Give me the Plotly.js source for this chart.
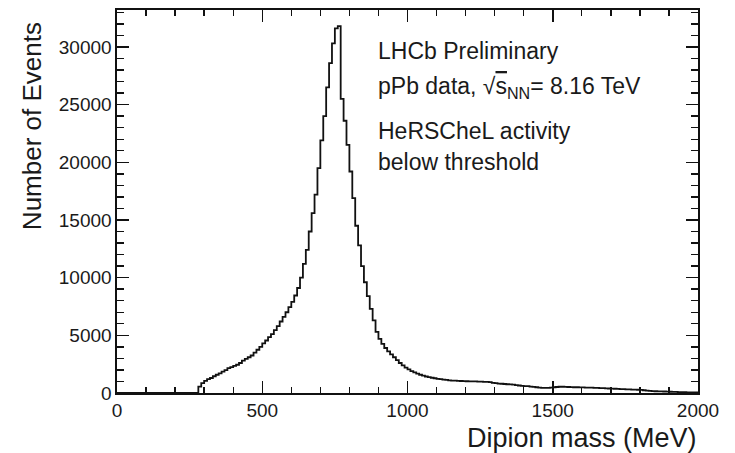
<!DOCTYPE html>
<html>
<head>
<meta charset="utf-8">
<script src="https://cdn.plot.ly/plotly-3.0.1.min.js"></script>
<style>
  html, body { margin: 0; padding: 0; background: #ffffff; }
  #chart { width: 735px; height: 453px; }
</style>
</head>
<body>
<div id="chart"></div>
<script>
// Histogram: dipion mass, 10 MeV bins from 0 to 2000 MeV
const binWidth = 10;       // MeV
const binStart = 0;        // MeV
const counts = [
  // 0 - 90
  0, 0, 0, 0, 0, 0, 0, 0, 0, 0,
  // 100 - 190
  0, 0, 0, 0, 0, 0, 0, 0, 0, 0,
  // 200 - 290
  0, 0, 0, 0, 0, 0, 0, 0, 550, 850,
  // 300 - 390
  1050, 1200, 1300, 1450, 1580, 1700, 1850, 1980, 2150, 2250,
  // 400 - 490
  2350, 2450, 2600, 2800, 2950, 3100, 3250, 3500, 3750, 4000,
  // 500 - 590
  4300, 4550, 4850, 5100, 5450, 5800, 6200, 6600, 7000, 7450,
  // 600 - 690
  7900, 8450, 9100, 10000, 11200, 12400, 14000, 15600, 17200, 19500,
  // 700 - 790
  21900, 24000, 26500, 28600, 30300, 31600, 31800, 25500, 23600, 21500,
  // 800 - 890
  19200, 16900, 14500, 12800, 11000, 9600, 8400, 7300, 6300, 5300,
  // 900 - 990
  4700, 4250, 3900, 3600, 3350, 3100, 2850, 2600, 2400, 2200,
  // 1000 - 1090
  2050, 1900, 1780, 1680, 1580, 1500, 1430, 1370, 1320, 1280,
  // 1100 - 1190
  1230, 1200, 1160, 1130, 1100, 1080, 1070, 1050, 1040, 1030,
  // 1200 - 1290
  1020, 1010, 1000, 1000, 990, 980, 970, 960, 940, 880,
  // 1300 - 1390
  850, 820, 800, 780, 760, 740, 720, 690, 650, 620,
  // 1400 - 1490
  600, 590, 560, 530, 500, 470, 450, 440, 450, 470,
  // 1500 - 1590
  500, 520, 540, 540, 530, 520, 510, 500, 500, 490,
  // 1600 - 1690
  480, 470, 460, 460, 450, 440, 430, 420, 400, 390,
  // 1700 - 1790
  380, 370, 350, 340, 330, 320, 310, 300, 290, 280,
  // 1800 - 1890
  270, 240, 210, 180, 160, 150, 140, 140, 130, 120,
  // 1900 - 1990
  110, 100, 90, 80, 80, 70, 60, 60, 50, 50
];

const xTickVals = [0, 500, 1000, 1500, 2000];
const yTickVals = [0, 5000, 10000, 15000, 20000, 25000, 30000];

const xTitle = 'Dipion mass (MeV)';
const yTitle = 'Number of Events';
const labelLines = [
  'LHCb Preliminary',
  'pPb data, √<span style="text-decoration:overline">s</span><sub>NN</sub>= 8.16 TeV',
  'HeRSCheL activity',
  'below threshold'
];

// bin edges for a step outline
const edges = [];
const stepY = [];
for (let i = 0; i < counts.length; i++) {
  edges.push(binStart + i * binWidth);
  stepY.push(counts[i]);
}
edges.push(binStart + counts.length * binWidth);
stepY.push(counts[counts.length - 1]);

const FONT = 'Liberation Sans, Arial, Helvetica, sans-serif';
const INK = '#1a1a1a';
const LINE = '#111111';

const trace = {
  type: 'scatter',
  mode: 'lines',
  x: edges,
  y: stepY,
  line: { shape: 'hv', color: LINE, width: 1.8 },
  hoverinfo: 'x+y',
  showlegend: false
};

const axisCommon = {
  showgrid: false,
  zeroline: false,
  showline: true,
  linecolor: LINE,
  linewidth: 1.6,
  mirror: 'allticks',
  ticks: 'inside',
  tickcolor: LINE,
  tickwidth: 1.5,
  ticklen: 12,
  tickfont: { family: FONT, size: 19, color: INK },
  fixedrange: true
};

const xMinor = { dtick: 100, ticks: 'inside', ticklen: 6, tickwidth: 1.4, tickcolor: LINE, showgrid: false };
const yMinor = { dtick: 1000, ticks: 'inside', ticklen: 7, tickwidth: 1.4, tickcolor: LINE, showgrid: false };

const lineYs = [0.894, 0.798, 0.685, 0.602];
const annotations = labelLines.map((t, i) => ({
  text: t,
  xref: 'paper', yref: 'paper',
  x: 0.446, y: lineYs[i],
  xanchor: 'left', yanchor: 'middle',
  showarrow: false,
  font: { family: FONT, size: 23, color: INK }
}));

annotations.push({
  text: xTitle,
  xref: 'paper', yref: 'paper',
  x: 1.0, y: -0.118,
  xanchor: 'right', yanchor: 'middle',
  showarrow: false,
  borderpad: 0,
  font: { family: FONT, size: 27, color: INK }
});
annotations.push({
  text: yTitle,
  xref: 'paper', yref: 'paper',
  x: -0.146, y: 0.974,
  xanchor: 'center', yanchor: 'top',
  textangle: -90,
  showarrow: false,
  font: { family: FONT, size: 26, color: INK }
});

const layout = {
  width: 735,
  height: 453,
  margin: { l: 117, r: 37, t: 10, b: 60, pad: 0 },
  paper_bgcolor: '#ffffff',
  plot_bgcolor: '#ffffff',
  xaxis: Object.assign({}, axisCommon, {
    range: [0, 2000],
    tickmode: 'array',
    tickvals: xTickVals,
    ticktext: xTickVals.map(String),
    minor: xMinor
  }),
  yaxis: Object.assign({}, axisCommon, {
    range: [0, 33200],
    tickmode: 'array',
    tickvals: yTickVals,
    ticktext: yTickVals.map(String),
    minor: yMinor
  }),
  annotations: annotations,
  showlegend: false
};

Plotly.newPlot('chart', [trace], layout, { displayModeBar: false, staticPlot: true });
</script>
</body>
</html>
